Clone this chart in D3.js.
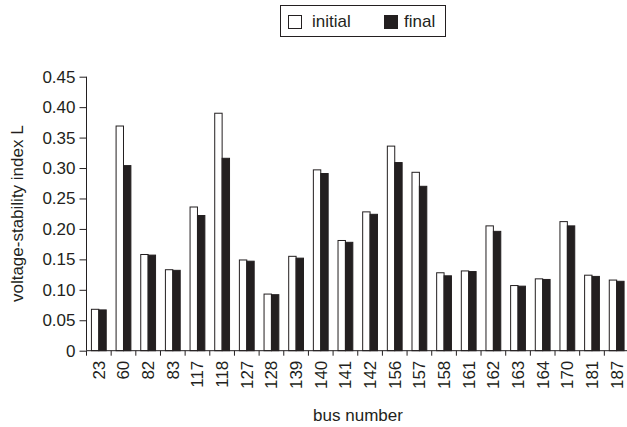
<!DOCTYPE html>
<html><head><meta charset="utf-8">
<script src="https://cdn.jsdelivr.net/npm/d3@7"></script>
<style>html,body{margin:0;padding:0;background:#fff;}svg{display:block;font-family:"Liberation Sans",Arial,sans-serif;}</style>
</head><body>
<svg id="c" width="627" height="427"></svg>
<script>
const buses = ["23","60","82","83","117","118","127","128","139","140","141","142","156","157","158","161","162","163","164","170","181","187"];
const initialL = [0.068,0.369,0.158,0.133,0.236,0.390,0.149,0.093,0.155,0.297,0.181,0.228,0.336,0.293,0.128,0.131,0.205,0.107,0.118,0.212,0.124,0.116];
const finalL   = [0.067,0.304,0.157,0.132,0.222,0.316,0.147,0.092,0.152,0.291,0.178,0.224,0.309,0.270,0.123,0.130,0.196,0.106,0.117,0.205,0.122,0.114];
const yTicks = [0,0.05,0.10,0.15,0.20,0.25,0.30,0.35,0.40,0.45];
const seriesNames = ["initial","final"];

const svg = d3.select("#c");
const ink = "#231f20";
const fs = 17;
const x = d3.scaleBand().domain(buses).range([86.5, 629]).paddingInner(0).paddingOuter(0);
const y = d3.scaleLinear().domain([0,0.45]).range([350.7, 76.7]);
const bw = 7.4;

// bars
const g = svg.append("g");
buses.forEach((b,i)=>{
  const cx = x(b) + x.bandwidth()/2;
  g.append("rect").attr("x", cx-bw).attr("y", y(initialL[i])).attr("width", bw).attr("height", y(0)-y(initialL[i]))
    .attr("fill","#fff").attr("stroke",ink).attr("stroke-width",1);
  g.append("rect").attr("x", cx).attr("y", y(finalL[i])).attr("width", bw).attr("height", y(0)-y(finalL[i]))
    .attr("fill",ink).attr("stroke",ink).attr("stroke-width",1);
});

// y axis
const ya = svg.append("g").attr("transform","translate(86.5,0)")
  .call(d3.axisLeft(y).tickValues(yTicks).tickSize(7).tickPadding(4)
  .tickFormat(d=> d===0 ? "0" : d3.format(".2f")(d)));
ya.select(".domain").attr("stroke",ink).attr("d","M0,76.7V350.7");
ya.selectAll(".tick line").attr("stroke",ink);
ya.selectAll("text").attr("font-size",fs).attr("fill",ink).attr("font-family","'Liberation Sans',Arial,sans-serif");

// x axis
const xa = svg.append("g").attr("transform","translate(0,350.7)");
xa.append("line").attr("x1",86.5).attr("x2",629).attr("y1",0).attr("y2",0).attr("stroke",ink);
buses.forEach(b=>{
  xa.append("line").attr("x1",x(b)).attr("x2",x(b)).attr("y1",0).attr("y2",5).attr("stroke",ink);
  xa.append("text").attr("transform",`translate(${x(b)+x.bandwidth()/2},10) rotate(-90)`)
    .attr("text-anchor","end").attr("dy","0.35em").attr("font-size",fs).attr("fill",ink).text(b);
});

// axis titles
svg.append("text").attr("transform","translate(17,213.7) rotate(-90)").attr("text-anchor","middle")
  .attr("dy","0.35em").attr("font-size",fs).attr("fill",ink).text("voltage-stability index L");
svg.append("text").attr("x",358).attr("y",421).attr("text-anchor","middle")
  .attr("font-size",fs).attr("fill",ink).text("bus number");

// legend
const lg = svg.append("g");
lg.append("rect").attr("x",280.5).attr("y",5.5).attr("width",165).attr("height",31).attr("fill","#fff").attr("stroke",ink);
const lx = [288, 384];
seriesNames.forEach((s,i)=>{
  lg.append("rect").attr("x",lx[i]+0.5).attr("y",15.5).attr("width",13).attr("height",13)
    .attr("fill", i===0 ? "#fff" : ink).attr("stroke",ink);
  lg.append("text").attr("x",lx[i]+ (i===0 ? 24 : 20)).attr("y",21.5).attr("dy","0.35em").attr("font-size",fs).attr("fill",ink).text(s);
});
</script>
</body></html>
